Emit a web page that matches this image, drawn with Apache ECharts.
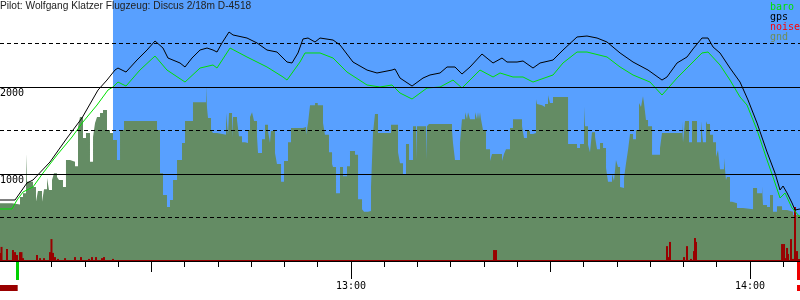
<!DOCTYPE html>
<html>
<head>
<meta charset="utf-8">
<script src="https://cdn.jsdelivr.net/npm/echarts@6/dist/echarts.min.js"></script>
<style>html,body{margin:0;padding:0;background:#fff}#c{width:800px;height:300px}</style>
</head>
<body>
<div id="c"></div>
<script>
// Time in minutes after 12:00, altitude in metres
const titleText = 'Pilot: Wolfgang Klatzer Flugzeug: Discus 2/18m D-4518';
const timeMin = 7.22, timeMax = 127.52;
const skyStart = 24.21;
const minorTicks = [10,15,20,25,30,35,40,45,50,55,60,65,70,75,80,85,90,95,100,105,110,115,120,125];
const halfHourTicks = [30, 90];
const hourTicks = [60, 120];
const altLabels = [1000, 2000];
const solidLevels = [1000, 2000];
const dashedLevels = [500, 1500, 2500];

const gnd = [[7.22,665],[9.02,650],[10.23,735],[10.68,780],[11.13,1230],[11.28,910],[12.18,850],[12.63,680],[12.93,805],[13.54,680],[13.84,825],[14.29,955],[14.59,815],[15.04,930],[15.34,1010],[15.79,965],[16.09,930],[16.69,850],[17.14,1160],[17.75,1140],[18.50,1090],[18.95,1540],[19.25,1655],[19.70,1415],[20.15,1470],[20.75,1140],[21.21,1425],[21.51,1585],[21.81,1655],[22.26,1700],[22.71,1735],[23.31,1505],[23.76,1470],[24.21,1390],[24.81,1160],[25.27,1505],[25.87,1610],[30.83,1505],[31.28,1010],[31.73,760],[32.33,620],[32.78,700],[33.24,930],[33.84,1160],[34.59,1355],[35.04,1610],[36.24,1825],[38.20,2010],[38.35,1760],[38.50,1645],[38.95,1505],[39.25,1470],[39.85,1450],[41.21,1700],[41.51,1450],[41.66,1700],[42.11,1415],[42.26,1655],[42.86,1620],[43.16,1435],[43.61,1365],[44.06,1355],[44.51,1505],[44.82,1655],[45.12,1710],[45.42,1610],[45.87,1425],[46.02,1240],[46.62,1400],[47.07,1565],[47.52,1495],[47.82,1355],[47.97,1495],[48.57,1240],[48.87,1115],[49.48,910],[49.93,1150],[50.53,1365],[50.98,1530],[52.78,1540],[53.24,1450],[53.54,1585],[53.84,1790],[54.60,1815],[55.00,1790],[55.79,1585],[56.09,1450],[56.69,1250],[57.15,1115],[57.30,1080],[57.75,780],[58.35,1080],[58.80,975],[59.40,1090],[59.85,1265],[60.60,1220],[61.06,710],[61.66,595],[61.96,565],[62.56,575],[63.01,850],[63.31,1470],[63.61,1690],[64.06,1470],[66.02,1565],[67.07,1250],[67.37,1125],[67.82,990],[68.27,1345],[68.73,1160],[69.33,1550],[69.78,1160],[69.93,1550],[71.28,1160],[71.43,1550],[71.73,1575],[75.19,1505],[75.34,1355],[75.64,1160],[76.39,1355],[76.69,1630],[77.15,1710],[77.45,1630],[77.60,1710],[77.90,1630],[78.65,1710],[78.95,1630],[79.10,1710],[79.25,1630],[79.40,1710],[79.55,1630],[79.85,1505],[80.30,1285],[80.91,1150],[81.21,1230],[82.71,1150],[83.01,1230],[83.31,1285],[83.91,1530],[84.36,1630],[85.72,1550],[86.02,1415],[86.47,1495],[86.92,1460],[87.37,1470],[87.82,1860],[87.97,1805],[88.27,1790],[88.73,1770],[89.18,1805],[89.63,1905],[89.93,1815],[90.38,1885],[92.64,1345],[93.99,1300],[94.44,1345],[95.04,1770],[95.19,1550],[95.64,1335],[95.94,1250],[96.24,1480],[96.70,1425],[97.00,1285],[97.45,1355],[97.90,1300],[98.35,1070],[98.65,910],[99.25,1000],[99.55,920],[99.85,1160],[100.15,1080],[100.46,850],[100.76,840],[101.06,955],[101.36,1125],[101.66,1275],[101.96,1460],[102.41,1400],[102.86,1505],[103.31,1815],[103.61,1770],[103.91,1895],[104.06,1815],[104.36,1620],[104.67,1550],[105.27,1220],[106.47,1300],[106.77,1470],[109.78,1610],[109.93,1365],[110.23,1610],[110.83,1365],[111.28,1610],[112.03,1365],[112.63,1610],[112.93,1365],[113.39,1610],[113.54,1575],[113.99,1450],[114.44,1365],[114.89,1195],[115.19,1275],[115.49,1055],[116.09,1185],[116.39,930],[116.54,965],[116.99,680],[117.30,665],[118.05,610],[118.95,595],[120.46,840],[121.06,780],[121.81,860],[121.96,645],[122.56,620],[123.01,760],[123.46,565],[124.06,630],[124.82,585],[125.57,565],[126.47,530],[127.52,530]];

const gps = [[7.22,701],[9.48,701],[11.28,897],[12.18,931],[14.74,1138],[17.30,1414],[19.55,1644],[21.96,1965],[23.31,2080],[24.51,2195],[24.96,2218],[26.17,2172],[27.82,2310],[29.33,2425],[30.53,2529],[31.73,2448],[32.48,2333],[34.29,2276],[35.04,2230],[36.09,2333],[37.30,2425],[38.35,2448],[39.25,2425],[39.85,2402],[40.60,2506],[41.66,2632],[42.26,2598],[44.36,2563],[45.87,2506],[47.37,2425],[48.87,2402],[50.38,2287],[51.13,2276],[52.03,2391],[52.78,2552],[53.54,2563],[54.59,2517],[55.34,2563],[57.30,2540],[58.35,2483],[60.30,2287],[62.41,2195],[63.91,2161],[66.17,2195],[66.62,2207],[67.37,2103],[69.18,2011],[70.83,2103],[71.88,2138],[73.39,2161],[74.44,2230],[75.64,2230],[76.69,2149],[77.90,2230],[79.70,2379],[80.61,2322],[81.36,2276],[82.71,2333],[83.46,2287],[84.97,2287],[85.87,2299],[87.37,2218],[88.43,2276],[90.38,2310],[91.88,2425],[93.99,2575],[95.49,2586],[97.00,2563],[98.50,2517],[100.46,2391],[102.41,2287],[104.67,2195],[106.77,2080],[107.52,2115],[109.03,2276],[110.53,2345],[111.43,2437],[112.78,2563],[113.69,2563],[114.44,2460],[115.49,2391],[116.99,2218],[118.50,2057],[119.70,1851],[121.06,1586],[122.56,1253],[123.76,1011],[124.52,816],[124.97,862],[125.57,782],[126.32,667],[126.77,586],[127.52,598]];

const baro = [[7.22,598],[9.02,598],[9.78,701],[10.68,793],[12.18,851],[13.69,1011],[15.79,1218],[18.05,1425],[19.70,1598],[21.81,1793],[23.46,1965],[24.21,2000],[24.96,2057],[26.17,2011],[28.27,2195],[30.53,2356],[32.33,2195],[35.04,2057],[37.30,2218],[39.25,2253],[39.85,2218],[41.81,2448],[44.36,2345],[47.37,2230],[49.78,2115],[50.38,2080],[52.33,2287],[53.09,2391],[55.34,2391],[57.30,2333],[59.40,2172],[62.41,2023],[64.36,2000],[66.17,2023],[67.37,1931],[69.18,1862],[71.43,1988],[73.39,2000],[75.34,2080],[76.69,1988],[79.40,2195],[81.36,2115],[82.41,2161],[84.36,2115],[85.87,2115],[87.37,2057],[90.38,2138],[91.88,2276],[93.99,2402],[95.49,2402],[98.50,2345],[100.46,2230],[102.41,2138],[104.97,2057],[106.77,1908],[109.03,2103],[110.98,2253],[112.78,2391],[113.69,2402],[115.49,2253],[116.99,2080],[118.50,1885],[119.55,1793],[121.06,1506],[122.56,1161],[123.46,966],[124.52,724],[125.27,782],[126.32,609],[127.52,506]];

// noise level (0..1000 scale)
const noise = [[7.22,31],[7.45,54],[8.27,46],[9.17,42],[9.48,34],[9.78,23],[10.23,34],[10.45,34],[10.68,11],[12.78,23],[13.24,11],[13.84,11],[14.74,34],[14.96,84],[15.19,31],[15.49,15],[15.94,8],[17.00,11],[18.50,15],[19.40,15],[20.60,8],[21.05,15],[21.66,15],[22.56,11],[22.86,15],[24.21,8],[81.51,42],[81.81,42],[107.52,57],[107.67,15],[107.97,73],[110.08,15],[110.53,57],[111.13,8],[111.58,38],[111.73,88],[111.88,73],[124.82,65],[125.12,65],[125.27,11],[125.57,50],[125.72,27],[126.17,84],[126.47,8],[126.77,207],[127.07,38],[127.37,8]];

// flight events shown under the time axis: [kind, start, end, lane]
const events = [['takeoff',9.63,10.08,'marker'],['landing',127.07,127.52,'marker'],['engine',7.22,9.88,'strip'],['landing',127.07,127.52,'strip']];

const mono = 'DejaVu Sans Mono';
const C = {sky:'#58a0ff', gnd:'#648c64', baro:'#00e000', gps:'#000000', noise:'#ff0000', noiseBar:'#990000'};
const eventColor = {takeoff:'#00d000', landing:'#ee0000', engine:'#990000'};
const laneRange = {marker:[1,19], strip:[24,30]};

function fmtTime(v){const h=12+Math.floor(v/60), m=Math.round(v%60);return h+':'+(m<10?'0':'')+m;}

const chart = echarts.init(document.getElementById('c'), null, {renderer:'canvas'});
const baseX = {type:'value', min:timeMin, max:timeMax, gridIndex:0, position:'bottom', splitLine:{show:false}};
chart.setOption({
  animation:false,
  backgroundColor:'#ffffff',
  title:{text:titleText, left:0, top:1, padding:0, textStyle:{fontFamily:'Liberation Sans', fontSize:10.2, fontWeight:'normal', color:'#222'}},
  legend:{orient:'vertical', left:765, top:2, padding:0, itemWidth:0, itemHeight:10, itemGap:0, selectedMode:false, icon:'rect',
    textStyle:{fontFamily:mono, fontSize:10, lineHeight:10, padding:0},
    data:[{name:'baro', textStyle:{color:C.baro}},{name:'gps', textStyle:{color:C.gps}},{name:'noise', textStyle:{color:C.noise}},{name:'gnd', textStyle:{color:'#6e8c5a'}}]},
  grid:[{left:0, right:0, top:0, bottom:39, containLabel:false, outerBoundsMode:'none'},
        {left:0, right:0, top:261, height:31, containLabel:false, outerBoundsMode:'none'}],
  xAxis:[
    Object.assign({}, baseX, {axisLine:{lineStyle:{color:'#000', width:1}}, axisTick:{customValues:minorTicks, length:6, lineStyle:{color:'#000'}}, axisLabel:{show:false}}),
    Object.assign({}, baseX, {axisLine:{show:false}, axisTick:{customValues:halfHourTicks, length:11, lineStyle:{color:'#000'}}, axisLabel:{show:false}}),
    Object.assign({}, baseX, {axisLine:{show:false}, axisTick:{customValues:hourTicks, length:18, lineStyle:{color:'#000'}},
      axisLabel:{customValues:hourTicks, formatter:fmtTime, margin:20, fontFamily:mono, fontSize:10, color:'#000'}}),
    {type:'value', min:timeMin, max:timeMax, gridIndex:1, show:false}
  ],
  yAxis:[
    {type:'value', min:0, max:3000, interval:1000, gridIndex:0, splitLine:{show:false}, axisLine:{show:false}, axisTick:{show:false}, z:6,
      axisLabel:{inside:true, margin:0, verticalAlign:'top', padding:[1,0,0,0], fontFamily:mono, fontSize:10, color:'#000',
        formatter:v=>altLabels.indexOf(v)>=0?String(v):''}},
    {type:'value', min:0, max:1000, gridIndex:0, show:false},
    {type:'value', min:0, max:31, inverse:true, gridIndex:1, show:false}
  ],
  series:[
    {name:'sky', type:'line', data:[], z:1, silent:true,
      markArea:{silent:true, itemStyle:{color:C.sky}, data:[[{xAxis:skyStart},{xAxis:timeMax}]]}},
    {name:'gnd', type:'line', step:'end', data:gnd, showSymbol:false, symbol:'none', z:2, color:C.gnd,
      lineStyle:{width:0}, areaStyle:{color:C.gnd, opacity:1}},
    {name:'levels', type:'line', data:[], z:3, silent:true,
      markLine:{silent:true, symbol:['none','none'], label:{show:false},
        data:[].concat(solidLevels.map(v=>({yAxis:v, lineStyle:{color:'#000', width:1, type:'solid'}})),
                       dashedLevels.map(v=>({yAxis:v, lineStyle:{color:'#000', width:1, type:[4,3]}})))}},
    {name:'noise', type:'custom', data:noise, xAxisIndex:0, yAxisIndex:1, z:3, color:C.noise, silent:true,
      itemStyle:{color:C.noiseBar}, encode:{x:0, y:1},
      renderItem:function(params, api){
        const p0 = api.coord([api.value(0), 0]);
        const p1 = api.coord([api.value(0), api.value(1)]);
        return {type:'rect', shape:{x:p0[0]-1, y:p1[1], width:2, height:p0[1]-p1[1]}, style:{fill:C.noiseBar}};
      }},
    {name:'noiseBase', type:'line', data:[], yAxisIndex:1, z:3, silent:true,
      markLine:{silent:true, symbol:['none','none'], label:{show:false}, data:[{yAxis:4, lineStyle:{color:C.noiseBar, width:1, type:'solid'}}]}},
    {name:'baro', type:'line', data:baro, showSymbol:false, symbol:'none', z:4, color:C.baro, lineStyle:{width:1, color:C.baro}},
    {name:'gps', type:'line', data:gps, showSymbol:false, symbol:'none', z:5, color:C.gps, lineStyle:{width:1, color:C.gps}},
    {name:'events', type:'custom', xAxisIndex:3, yAxisIndex:2, silent:true,
      data:events.map(e=>({value:[e[1], e[2]].concat(laneRange[e[3]]), itemStyle:{color:eventColor[e[0]]}})),
      encode:{x:[0,1], y:[2,3]},
      renderItem:function(params, api){
        const p0 = api.coord([api.value(0), api.value(2)]);
        const p1 = api.coord([api.value(1), api.value(3)]);
        return {type:'rect', shape:{x:p0[0], y:p0[1], width:p1[0]-p0[0], height:p1[1]-p0[1]}, style:api.style()};
      }}
  ]
});
</script>
</body>
</html>
